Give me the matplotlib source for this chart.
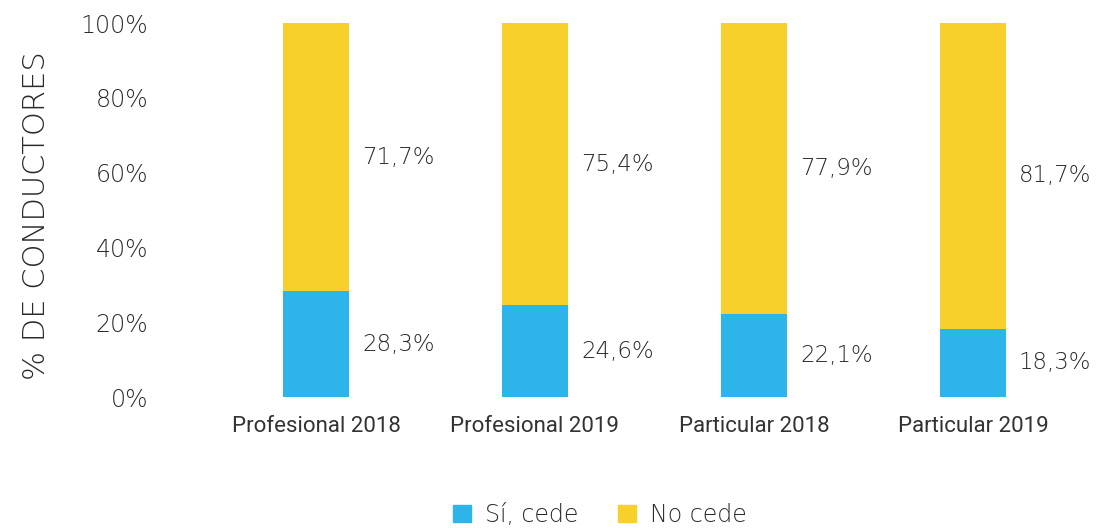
import matplotlib
matplotlib.use("Agg")
import matplotlib.pyplot as plt
from matplotlib.patches import Patch

categories = ["Profesional 2018", "Profesional 2019", "Particular 2018", "Particular 2019"]
si_cede = [28.3, 24.6, 22.1, 18.3]
no_cede = [71.7, 75.4, 77.9, 81.7]
si_labels = ["28,3%", "24,6%", "22,1%", "18,3%"]
no_labels = ["71,7%", "75,4%", "77,9%", "81,7%"]
yticks = [0, 20, 40, 60, 80, 100]
ytick_labels = ["0%", "20%", "40%", "60%", "80%", "100%"]
series_names = ["Sí, cede", "No cede"]

BLUE = "#2DB4E8"
YELLOW = "#F7D02C"
TXT = "#2a2a2a"

main_font = "DejaVu Sans"
narrow = "Roboto"
W = "light"

fig = plt.figure(figsize=(11.07, 5.28), dpi=100)
ax = fig.add_axes([0.1865, 0.2481, 0.7913, 0.7083])

x = list(range(len(categories)))
w = 0.30
ax.bar(x, si_cede, width=w, color=BLUE, label=series_names[0])
ax.bar(x, no_cede, width=w, bottom=si_cede, color=YELLOW, label=series_names[1])

for i in x:
    ax.text(i + w / 2 + 0.06, si_cede[i] / 2, si_labels[i], ha="left", va="center",
            fontsize=16.5, color=TXT, family=main_font, fontweight=W)
    ax.text(i + w / 2 + 0.06, si_cede[i] + no_cede[i] / 2, no_labels[i], ha="left", va="center",
            fontsize=16.5, color=TXT, family=main_font, fontweight=W)

ax.set_xlim(-0.5, 3.5)
ax.set_ylim(0, 100)
ax.set_yticks(yticks)
ax.set_yticklabels(ytick_labels, fontsize=17, color=TXT, family=main_font, fontweight=W)
ax.set_xticks(x)
ax.set_xticklabels(categories, fontsize=16, color="#333333", family=narrow)
ax.tick_params(axis="y", length=0, pad=42)
ax.tick_params(axis="x", length=0, pad=14)
for s in ax.spines.values():
    s.set_visible(False)

fig.text(0.033, 0.2481 + 0.7083 / 2 - 0.01, "% DE CONDUCTORES", rotation=90,
         ha="center", va="center", fontsize=22, color=TXT, family=main_font, fontweight=W)

handles = [Patch(color=BLUE), Patch(color=YELLOW)]
fig.legend(handles, series_names, loc="center", bbox_to_anchor=(0.542, 0.025), ncol=2,
           frameon=False, prop={"family": main_font, "size": 17, "weight": W},
           handlelength=0.75, handleheight=0.75, columnspacing=1.7, handletextpad=0.6,
           labelcolor=TXT)

fig.savefig("out.png", dpi=100)
